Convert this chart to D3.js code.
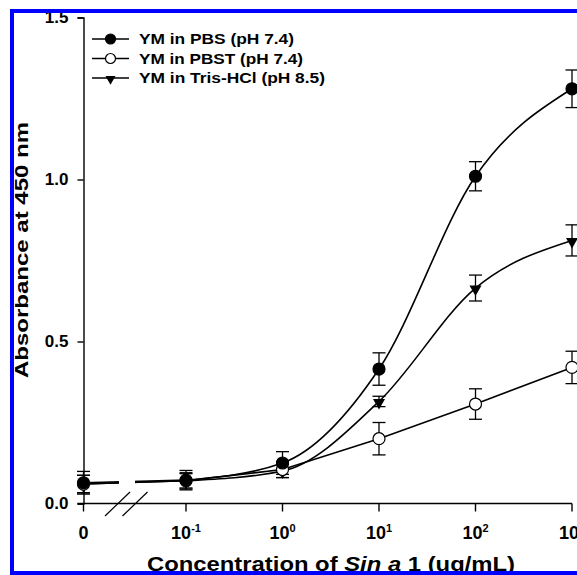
<!DOCTYPE html>
<html>
<head>
<meta charset="utf-8">
<script src="https://cdn.jsdelivr.net/npm/d3@7"></script>
<style>
  body { margin: 0; background: #fff; overflow: hidden; }
  svg { display: block; }
  text { font-family: "Liberation Sans", Arial, sans-serif; font-weight: bold; fill: #000; }
</style>
</head>
<body>
<svg id="chart" width="577" height="575"></svg>
<script>
// concentrations (ug/mL), 0 is drawn left of the axis break
const concentrations = [0, 0.1, 1, 10, 100, 1000];

const seriesNames = ["YM in PBS (pH 7.4)", "YM in PBST (pH 7.4)", "YM in Tris-HCl (pH 8.5)"];

const pbsValues  = [0.064, 0.072, 0.125, 0.415, 1.010, 1.280];
const pbsErrors  = [0.035, 0.030, 0.035, 0.050, 0.045, 0.058];

const pbstValues = [0.060, 0.070, 0.105, 0.200, 0.307, 0.420];
const pbstErrors = [0.027, 0.025, 0.025, 0.050, 0.047, 0.050];

const trisValues = [0.060, 0.070, 0.100, 0.315, 0.665, 0.812];
const trisErrors = [0.027, 0.022, 0.020, 0.016, 0.040, 0.048];

const yTicks = [0, 0.5, 1.0, 1.5];
const xTickValues = [0, 0.1, 1, 10, 100, 1000];
const xTickExponents = ["-1", "0", "1", "2", "3"];

const svg = d3.select("#chart");

const axisX = 83.5;      // y axis / position of "0"
const firstDecade = 186; // 10^-1
const plotRight = 572;
const plotTop = 17.5;
const plotBottom = 503.5;
const breakLeft = 119, breakRight = 135;

const xLog = d3.scaleLog().domain([0.1, 1000]).range([firstDecade, plotRight]);
const x = v => v === 0 ? axisX : xLog(v);
const y = d3.scaleLinear().domain([0, 1.5]).range([plotBottom, plotTop]);

const series = [
  { name: seriesNames[0], values: pbsValues, errors: pbsErrors, marker: "filled", curve: d3.curveMonotoneX, legendLen: 155 },
  { name: seriesNames[1], values: pbstValues, errors: pbstErrors, marker: "open", curve: d3.curveLinear, legendLen: 164 },
  { name: seriesNames[2], values: trisValues, errors: trisErrors, marker: "triangle", curve: d3.curveMonotoneX, legendLen: 186 }
];

// clip so the lines skip the axis break
const defs = svg.append("defs");
const clip = defs.append("clipPath").attr("id", "breakClip");
clip.append("rect").attr("x", 0).attr("y", 0).attr("width", breakLeft).attr("height", 575);
clip.append("rect").attr("x", breakRight).attr("y", 0).attr("width", 577 - breakRight).attr("height", 575);

// y axis
const yAxis = svg.append("g").attr("transform", `translate(${axisX},0)`)
  .call(d3.axisLeft(y).tickValues(yTicks).tickFormat(d3.format(".1f")).tickSize(6).tickSizeOuter(6).tickPadding(9));
yAxis.select(".domain").attr("stroke", "#000").attr("stroke-width", 1.4);
yAxis.selectAll(".tick line").attr("stroke-width", 1.4);
yAxis.selectAll(".tick text").attr("font-size", 17).attr("font-family", "Liberation Sans, Arial").attr("font-weight", "bold");

// x axis (manual, because of the 0 + break)
const xg = svg.append("g");
xg.append("line")
  .attr("x1", axisX - 6).attr("x2", plotRight)
  .attr("y1", plotBottom).attr("y2", plotBottom)
  .attr("stroke", "#000").attr("stroke-width", 1.4);
xg.selectAll("line.tick").data(xTickValues).enter().append("line")
  .attr("class", "tick")
  .attr("x1", d => x(d)).attr("x2", d => x(d))
  .attr("y1", plotBottom).attr("y2", plotBottom + 8)
  .attr("stroke", "#000").attr("stroke-width", 1.4);

const xLabels = xg.selectAll("text.tl").data(xTickValues).enter().append("text")
  .attr("class", "tl")
  .attr("x", d => x(d)).attr("y", 539)
  .attr("text-anchor", "middle")
  .attr("font-size", 18);
xLabels.each(function(d, i) {
  const t = d3.select(this);
  if (d === 0) { t.text("0"); return; }
  t.append("tspan").text("10");
  t.append("tspan").attr("font-size", 11).attr("dy", -7).text(xTickExponents[i - 1]);
});

// break marks
[0, 17.5].forEach(off => {
  xg.append("line")
    .attr("x1", 105 + off).attr("y1", 516)
    .attr("x2", 130 + off).attr("y2", 492)
    .attr("stroke", "#000").attr("stroke-width", 1.2);
});

// lines
const lineGen = c => d3.line().x(d => x(d.c)).y(d => y(d.v)).curve(c);
series.forEach(s => {
  const pts = concentrations.map((c, i) => ({ c: c, v: s.values[i], e: s.errors[i] }));
  const g = svg.append("g");
  g.append("path")
    .attr("clip-path", "url(#breakClip)")
    .attr("d", d3.line().x(d => x(d.c)).y(d => y(d.v))(pts.slice(0, 2)))
    .attr("fill", "none").attr("stroke", "#000").attr("stroke-width", 1.6);
  g.append("path")
    .attr("d", lineGen(s.curve)(pts.slice(1)))
    .attr("fill", "none").attr("stroke", "#000").attr("stroke-width", 1.6);
  s.pts = pts;
});

// error bars
series.forEach(s => {
  const g = svg.append("g").attr("stroke", "#000").attr("stroke-width", 1.3);
  s.pts.forEach(p => {
    const cx = x(p.c);
    g.append("line").attr("x1", cx).attr("x2", cx).attr("y1", y(p.v - p.e)).attr("y2", y(p.v + p.e));
    [p.v - p.e, p.v + p.e].forEach(v => {
      g.append("line").attr("x1", cx - 6.5).attr("x2", cx + 6.5).attr("y1", y(v)).attr("y2", y(v));
    });
  });
});

function drawMarker(g, type, cx, cy, r) {
  if (type === "triangle") {
    g.append("path")
      .attr("d", d3.symbol().type(d3.symbolTriangle).size(r * r * 1.75)())
      .attr("transform", `translate(${cx},${cy + 1}) rotate(180)`)
      .attr("fill", "#000");
  } else {
    g.append("circle").attr("cx", cx).attr("cy", cy).attr("r", r)
      .attr("fill", type === "filled" ? "#000" : "#fff")
      .attr("stroke", "#000").attr("stroke-width", 1.2);
  }
}

// markers: Tris first, PBS on top (as in the original)
[series[2], series[1], series[0]].forEach(s => {
  const g = svg.append("g");
  s.pts.forEach(p => drawMarker(g, s.marker, x(p.c), y(p.v), 6));
});

// legend
const legend = svg.append("g");
series.forEach((s, i) => {
  const ly = 39 + i * 19.5;
  legend.append("line").attr("x1", 92).attr("x2", 129).attr("y1", ly).attr("y2", ly)
    .attr("stroke", "#000").attr("stroke-width", 1.6);
  drawMarker(legend, s.marker, 110.5, ly, 5);
  legend.append("text").attr("x", 139).attr("y", ly + 5).attr("font-size", 14.5)
    .attr("textLength", s.legendLen).attr("lengthAdjust", "spacingAndGlyphs")
    .text(s.name);
});

// axis titles
svg.append("text")
  .attr("transform", `translate(28,250) rotate(-90)`)
  .attr("text-anchor", "middle")
  .attr("font-size", 19)
  .attr("textLength", 256).attr("lengthAdjust", "spacingAndGlyphs")
  .text("Absorbance at 450 nm");

const xt = svg.append("text")
  .attr("x", 331).attr("y", 571)
  .attr("text-anchor", "middle")
  .attr("font-size", 21);
xt.append("tspan").text("Concentration of ");
xt.append("tspan").attr("font-style", "italic").text("Sin a");
xt.append("tspan").text(" 1 (ug/mL)");
xt.attr("textLength", 368).attr("lengthAdjust", "spacingAndGlyphs");

// blue frame: left, top and bottom edges (right edge lies outside the picture)
svg.append("path")
  .attr("d", "M577,11 H12 V573 H577")
  .attr("fill", "none").attr("stroke", "#0000ff").attr("stroke-width", 4);
</script>
</body>
</html>
